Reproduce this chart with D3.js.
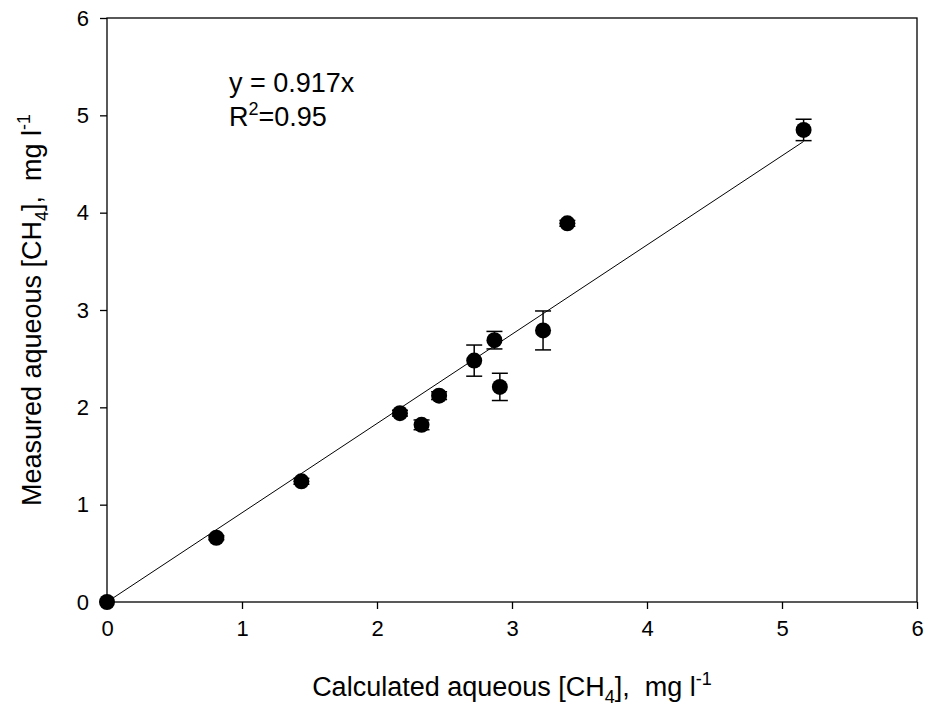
<!DOCTYPE html>
<html>
<head>
<meta charset="utf-8">
<script src="https://cdn.jsdelivr.net/npm/d3@7"></script>
<style>
  body { margin: 0; background: #fff; }
  text { font-family: Arial, "Liberation Sans", sans-serif; fill: #000; white-space: pre; }
</style>
</head>
<body>
<div id="chart"></div>
<script>
// data
const calcCH4 = [0, 0.81, 1.44, 2.17, 2.33, 2.46, 2.72, 2.87, 2.91, 3.23, 3.41, 5.16];
const measCH4 = [0, 0.66, 1.24, 1.94, 1.82, 2.12, 2.48, 2.69, 2.21, 2.79, 3.89, 4.85];
const measErr = [0, 0.02, 0.03, 0.03, 0.05, 0.04, 0.16, 0.09, 0.14, 0.20, 0.03, 0.11];
const tickVals = [0, 1, 2, 3, 4, 5, 6];
const slope = 0.917;

const width = 928, height = 710;
const margin = {top: 18, right: 11, bottom: 108, left: 107};

const x = d3.scaleLinear([0, 6], [margin.left, width - margin.right]);
const y = d3.scaleLinear([0, 6], [height - margin.bottom, margin.top]);

const svg = d3.select("#chart").append("svg")
    .attr("width", width)
    .attr("height", height);

// frame
svg.append("rect")
    .attr("x", x(0)).attr("y", y(6))
    .attr("width", x(6) - x(0)).attr("height", y(0) - y(6))
    .style("fill", "none").style("stroke", "#000").style("stroke-width", 1.3);

// axes
const xAxis = d3.axisBottom(x).tickValues(tickVals).tickSize(7).tickPadding(11).tickFormat(d3.format("d"));
const yAxis = d3.axisLeft(y).tickValues(tickVals).tickSize(7).tickPadding(11).tickFormat(d3.format("d"));

svg.append("g")
    .attr("transform", `translate(0,${y(0)})`)
    .call(xAxis)
    .call(g => g.select(".domain").remove())
    .call(g => g.selectAll("line").style("stroke-width", 1.3))
    .selectAll("text").style("font-size", "22px");

svg.append("g")
    .attr("transform", `translate(${x(0)},0)`)
    .call(yAxis)
    .call(g => g.select(".domain").remove())
    .call(g => g.selectAll("line").style("stroke-width", 1.3))
    .selectAll("text").style("font-size", "22px");

// regression line
const xMax = d3.max(calcCH4);
svg.append("line")
    .attr("x1", x(0)).attr("y1", y(0))
    .attr("x2", x(xMax)).attr("y2", y(slope * xMax))
    .style("stroke", "#000").style("stroke-width", 1);

const pts = calcCH4.map((c, i) => ({c: c, m: measCH4[i], e: measErr[i]}));

// error bars
const eb = svg.append("g").selectAll("g")
    .data(pts.filter(d => d.e > 0))
    .enter().append("g")
    .style("stroke", "#000").style("stroke-width", 1.5);
eb.append("line")
    .attr("x1", d => x(d.c)).attr("x2", d => x(d.c))
    .attr("y1", d => y(d.m - d.e)).attr("y2", d => y(d.m + d.e));
eb.append("line")
    .attr("x1", d => x(d.c) - 8).attr("x2", d => x(d.c) + 8)
    .attr("y1", d => y(d.m + d.e)).attr("y2", d => y(d.m + d.e));
eb.append("line")
    .attr("x1", d => x(d.c) - 8).attr("x2", d => x(d.c) + 8)
    .attr("y1", d => y(d.m - d.e)).attr("y2", d => y(d.m - d.e));

// points
svg.append("g").selectAll("circle")
    .data(pts)
    .enter().append("circle")
    .attr("cx", d => x(d.c))
    .attr("cy", d => y(d.m))
    .attr("r", 8)
    .style("fill", "#000");

// equation
svg.append("text")
    .attr("x", 229).attr("y", 92)
    .style("font-size", "27px")
    .text("y = 0.917x");
const r2 = svg.append("text")
    .attr("x", 229).attr("y", 126)
    .style("font-size", "27px");
r2.append("tspan").text("R");
r2.append("tspan").attr("dy", -11).style("font-size", "18px").text("2");
r2.append("tspan").attr("dy", 11).text("=0.95");

// axis titles
const xt = svg.append("text")
    .attr("x", (x(0) + x(6)) / 2).attr("y", 696)
    .attr("text-anchor", "middle")
    .style("font-size", "27px");
xt.append("tspan").text("Calculated aqueous [CH");
xt.append("tspan").attr("dy", 7).style("font-size", "18px").text("4");
xt.append("tspan").attr("dy", -7).text("],  mg l");
xt.append("tspan").attr("dy", -11).style("font-size", "18px").text("-1");

const yt = svg.append("text")
    .attr("transform", `translate(41,${(y(0) + y(6)) / 2}) rotate(-90)`)
    .attr("text-anchor", "middle")
    .style("font-size", "27px");
yt.append("tspan").text("Measured aqueous [CH");
yt.append("tspan").attr("dy", 7).style("font-size", "18px").text("4");
yt.append("tspan").attr("dy", -7).text("],  mg l");
yt.append("tspan").attr("dy", -11).style("font-size", "18px").text("-1");
</script>
</body>
</html>
